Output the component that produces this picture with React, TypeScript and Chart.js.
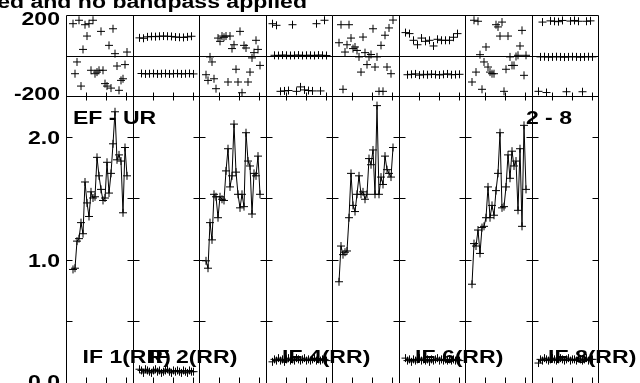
import React, { useEffect, useRef } from "react";
import { Chart, registerables } from "chart.js";

Chart.register(...registerables);

// ---- text ----
const TITLE = "ed and no bandpass applied";
const BASELINE_LABEL = "EF - UR";
const TIME_LABEL = "2 - 8";
const ifLabels = ["IF 1(RR)", "IF 2(RR)", "", "IF 4(RR)", "", "IF 6(RR)", "", "IF 8(RR)"];

// ---- axes ----
const phaseTickValues = [200, -200];
const phaseTickText = ["200", "-200"];
const ampTickValues = [2.0, 1.0, 0.0];
const ampTickText = ["2.0", "1.0", "0.0"];
const ampMinorTicks = [0.5, 1.0, 1.5, 2.0];
const chanTicks = [10, 20, 30];
const PHASE_MIN = -200;
const PHASE_MAX = 200;
const AMP_MIN = 0;
const AMP_MAX = 2.33;

// ---- data: channels per IF ----
const channels = [3, 4, 5, 6, 7, 8, 9, 10, 11, 12, 13, 14, 15, 16, 17, 18, 19, 20, 21, 22, 23, 24, 25, 26, 27, 28, 29, 30];

const amp1 = [0.93, 0.94, 1.16, 1.18, 1.31, 1.22, 1.64, 1.47, 1.36, 1.56, 1.51, 1.52, 1.84, 1.69, 1.58, 1.49, 1.51, 1.80, 1.55, 1.71, 1.95, 2.21, 1.82, 1.86, 1.81, 1.39, 1.92, 1.69];
const amp2 = [0.12, 0.11, 0.09, 0.12, 0.11, 0.10, 0.09, 0.11, 0.12, 0.10, 0.11, 0.09, 0.10, 0.11, 0.12, 0.10, 0.09, 0.11, 0.10, 0.11, 0.10, 0.09, 0.11, 0.10, 0.09, 0.11, 0.10, 0.10];
const amp3 = [1.00, 0.94, 1.31, 1.17, 1.54, 1.52, 1.35, 1.52, 1.50, 1.49, 1.73, 1.91, 1.60, 1.69, 2.11, 1.72, 1.54, 1.43, 1.54, 1.44, 2.04, 1.81, 1.77, 1.38, 1.71, 1.69, 1.85, 1.54];
const amp4 = [0.18, 0.20, 0.19, 0.21, 0.19, 0.20, 0.18, 0.20, 0.21, 0.19, 0.20, 0.19, 0.21, 0.20, 0.19, 0.20, 0.21, 0.19, 0.20, 0.19, 0.20, 0.21, 0.19, 0.20, 0.19, 0.20, 0.20, 0.19];
const amp5 = [0.83, 1.12, 1.05, 1.07, 1.08, 1.35, 1.71, 1.45, 1.40, 1.54, 1.69, 1.54, 1.56, 1.50, 1.54, 1.83, 1.78, 1.90, 1.54, 2.26, 1.54, 1.68, 1.62, 1.85, 1.74, 1.71, 1.68, 1.92];
const amp6 = [0.21, 0.19, 0.20, 0.18, 0.20, 0.19, 0.20, 0.21, 0.19, 0.20, 0.19, 0.20, 0.18, 0.20, 0.19, 0.20, 0.21, 0.19, 0.20, 0.19, 0.20, 0.19, 0.20, 0.19, 0.20, 0.19, 0.20, 0.19];
const amp7 = [0.81, 1.14, 1.12, 1.25, 1.06, 1.27, 1.28, 1.35, 1.60, 1.35, 1.45, 1.37, 1.57, 1.71, 2.04, 1.43, 1.44, 1.60, 1.86, 1.67, 1.89, 1.77, 1.81, 1.41, 1.91, 1.28, 2.10, 1.58];
const amp8 = [0.17, 0.20, 0.19, 0.21, 0.20, 0.19, 0.20, 0.21, 0.20, 0.19, 0.20, 0.21, 0.20, 0.19, 0.20, 0.21, 0.19, 0.20, 0.20, 0.19, 0.21, 0.20, 0.19, 0.20, 0.21, 0.19, 0.20, 0.20];

const ph1 = [162, -85, -27, 179, -146, 35, 157, 101, 162, -68, 179, -85, -77, -68, 124, -68, -134, -146, 55, -156, 137, 14, -47, -167, -118, -110, -40, 22];
const ph2 = [92, -84, 90, -86, 97, -85, 99, -84, 98, -86, 100, -85, 101, -84, 100, -86, 99, -85, 96, -84, 95, -86, 94, -85, 97, -84, 100, -86];
const ph3 = [-90, -118, -2, -27, -110, -159, 91, 75, 101, 95, 101, -126, 101, 39, 58, -63, -126, 124, -179, 55, 42, -126, -77, -7, 19, 80, 35, -44];
const ph4 = [162, 6, 154, 5, -172, 7, -170, 6, -168, 5, 157, 6, -172, 7, -150, 5, -165, 6, -168, 6, -170, 5, 162, 7, -170, 6, 179, 5];
const ph5 = [68, 157, -162, 22, 58, 157, 91, 39, 47, 30, -2, -77, 96, 19, -40, -2, 10, 137, -52, -2, -172, 55, -172, 105, -52, 141, -85, 180];
const ph6 = [118, -90, 113, -88, 80, -86, 58, -92, 91, -88, 75, -90, 80, -87, 52, -89, 85, -91, 80, -88, 80, -86, 80, -90, 95, -89, 113, -88];
const ph7 = [-126, 179, -77, 174, 9, -162, -27, 47, -52, -77, -85, -85, 157, 146, 101, 170, -172, -63, 101, -2, -44, -44, 0, 6, 52, 129, -93, 6];
const ph8 = [-172, -2, 170, -1, -178, -3, 176, -2, 174, -1, 172, -2, 178, -3, -174, -2, 175, -1, 178, -2, 174, -3, -174, -2, 174, -1, 176, -2];

const amplitudes = [amp1, amp2, amp3, amp4, amp5, amp6, amp7, amp8];
const phases = [ph1, ph2, ph3, ph4, ph5, ph6, ph7, ph8];

// panel width in channel units (layout)
const P = 33.25;
const NIF = 8;
const FONT = 'bold 18px "Liberation Sans", Arial, sans-serif';
const XSTRETCH = 1.28;

function drawText(ctx: CanvasRenderingContext2D, text: string, x: number, y: number, align: CanvasTextAlign, baseline: CanvasTextBaseline) {
  ctx.save();
  ctx.translate(x, y);
  ctx.scale(XSTRETCH, 1);
  ctx.font = FONT;
  ctx.fillStyle = "#000";
  ctx.textAlign = align;
  ctx.textBaseline = baseline;
  ctx.fillText(text, 0, 0);
  ctx.restore();
}

const framePlugin = {
  id: "aipsFrame",
  beforeDatasetsDraw(chart: any) {
    const ctx: CanvasRenderingContext2D = chart.ctx;
    const ca = chart.chartArea;
    const xs = chart.scales.x;
    const yA = chart.scales.yAmp;
    const yP = chart.scales.yPh;
    const s = (p: number) => Math.round(p) - 0.5;
    const line = (x1: number, y1: number, x2: number, y2: number) => {
      ctx.beginPath();
      ctx.moveTo(x1, y1);
      ctx.lineTo(x2, y2);
      ctx.stroke();
    };
    ctx.save();
    ctx.strokeStyle = "#000";
    ctx.lineWidth = 1;
    const left = s(ca.left);
    const right = s(ca.right);
    const top = s(yP.top);
    const mid = s(yP.bottom);
    const bottom = s(yA.bottom);
    // outer / dividers
    line(left, top, right, top);
    line(left, mid, right, mid);
    line(left, bottom, right, bottom);
    line(left, s(yP.getPixelForValue(0)), right, s(yP.getPixelForValue(0)));
    for (let k = 0; k <= NIF; k++) {
      const px = s(xs.getPixelForValue(k * P));
      line(px, top, px, bottom);
      for (const v of ampMinorTicks) {
        const py = s(yA.getPixelForValue(v));
        line(Math.max(left, px - 6), py, Math.min(right, px + 6), py);
      }
    }
    for (let k = 0; k < NIF; k++) {
      for (const c of chanTicks) {
        const px = s(xs.getPixelForValue(k * P + c));
        line(px, mid - 4, px, mid + 4);
        line(px, bottom - 6, px, bottom);
      }
    }
    ctx.restore();

    // texts
    drawText(ctx, TITLE, 307, 8, "right", "alphabetic");
    const labelRight = ca.left - 7;
    phaseTickValues.forEach((v, i) => {
      const py = yP.getPixelForValue(v) + (v === PHASE_MAX ? 4 : -1.5);
      drawText(ctx, phaseTickText[i], labelRight, py, "right", "middle");
    });
    ampTickValues.forEach((v, i) => {
      const py = yA.getPixelForValue(v) + (v === AMP_MIN ? -1 : 1.5);
      drawText(ctx, ampTickText[i], labelRight, py, "right", "middle");
    });
    drawText(ctx, BASELINE_LABEL, ca.left + 6, yP.bottom + 27, "left", "alphabetic");
    drawText(ctx, TIME_LABEL, ca.right - 27, yP.bottom + 27, "right", "alphabetic");
    ifLabels.forEach((t, k) => {
      if (!t) return;
      drawText(ctx, t, xs.getPixelForValue(k * P) + 15.5, 363, "left", "alphabetic");
    });
  },
};

export default function App() {
  const ref = useRef<HTMLCanvasElement | null>(null);
  useEffect(() => {
    if (!ref.current) return;
    const datasets: any[] = [];
    for (let i = 0; i < NIF; i++) {
      const common = {
        xAxisID: "x",
        borderColor: "#000",
        backgroundColor: "#000",
        pointStyle: "cross",
        pointRadius: 4,
        pointHoverRadius: 4,
        pointBorderWidth: 1,
        pointBorderColor: "#000",
        borderWidth: 1,
        tension: 0,
      };
      datasets.push({
        ...common,
        label: `amp IF${i + 1}`,
        yAxisID: "yAmp",
        showLine: true,
        data: channels.map((c, j) => ({ x: i * P + c, y: amplitudes[i][j] })),
      });
      datasets.push({
        ...common,
        label: `phase IF${i + 1}`,
        yAxisID: "yPh",
        showLine: false,
        data: channels.map((c, j) => ({ x: i * P + c, y: phases[i][j] })),
      });
    }
    const chart = new Chart(ref.current, {
      type: "scatter",
      data: { datasets },
      options: {
        animation: false,
        responsive: false,
        maintainAspectRatio: false,
        events: [],
        layout: { padding: { left: 67, right: 41, top: 16, bottom: 8 } },
        plugins: {
          legend: { display: false },
          tooltip: { enabled: false },
          title: { display: false },
        },
        scales: {
          x: { type: "linear", min: 0, max: NIF * P, display: false },
          yAmp: {
            type: "linear",
            min: AMP_MIN,
            max: AMP_MAX,
            display: false,
            position: "left",
            stack: "panels",
            stackWeight: 287,
            weight: 1,
          },
          yPh: {
            type: "linear",
            min: PHASE_MIN,
            max: PHASE_MAX,
            display: false,
            position: "left",
            stack: "panels",
            stackWeight: 81,
            weight: 2,
          },
        } as any,
      },
      plugins: [framePlugin],
    } as any);
    return () => chart.destroy();
  }, []);
  return (
    <div style={{ position: "absolute", left: 0, top: 0, width: 640, height: 383, overflow: "hidden", background: "#fff" }}>
      <canvas ref={ref} width={640} height={392} style={{ display: "block" }} />
    </div>
  );
}
